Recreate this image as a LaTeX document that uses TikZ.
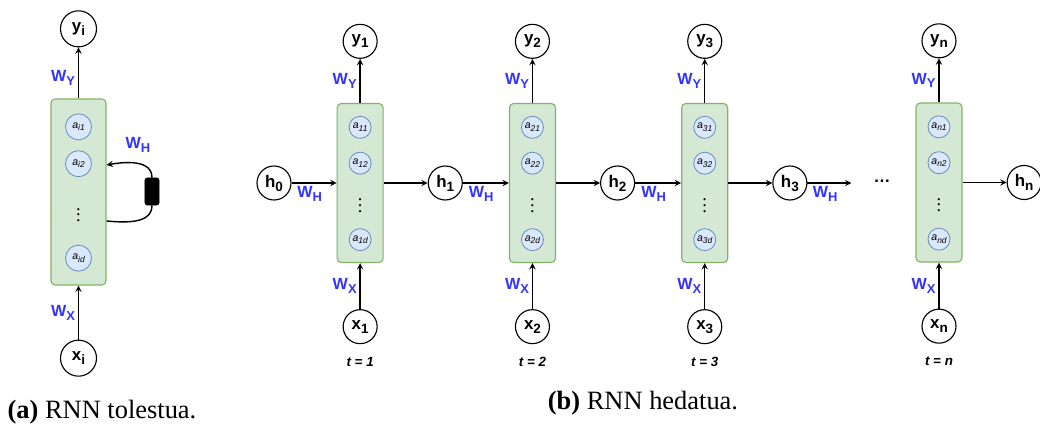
\documentclass[tikz,border=0pt]{standalone}
\usepackage{fontspec}
\setmainfont{Liberation Serif}
\setsansfont{Liberation Sans}
\usepackage{graphicx}
\usepackage{tikz}
\usetikzlibrary{arrows, positioning, calc, shapes}
\definecolor{cellfill}{HTML}{D5E8D4}
\definecolor{celldraw}{HTML}{82B366}
\definecolor{neufill}{HTML}{DAE8FC}
\definecolor{neudraw}{HTML}{6C8EBF}
\definecolor{wblue}{HTML}{3333FF}
\newcommand{\lowidx}[1]{\raisebox{-0.45ex}{\scalebox{0.8}{#1}}}
\tikzstyle{arrow} = [line width=1pt,->,>=stealth]
\tikzstyle{cell} = [rectangle, rounded corners=3pt, draw=celldraw, fill=cellfill, line width=0.8pt, minimum width=1.15cm, minimum height=3.975cm]
\tikzstyle{neuron} = [circle, draw=neudraw, fill=neufill, line width=0.6pt, minimum size=0.55cm, inner sep=0pt, font=\sffamily\itshape\fontsize{7.5}{8}\selectfont]
\tikzstyle{state} = [circle, draw, thick, minimum size=0.85cm, inner sep=0pt, font=\sffamily\bfseries\fontsize{12}{14}\selectfont]
\tikzstyle{wlabel} = [text=wblue, font=\sffamily\bfseries\fontsize{11.5}{13}\selectfont, inner sep=2pt]
\tikzstyle{tlabel} = [font=\sffamily\bfseries\itshape\fontsize{9.5}{11}\selectfont]
\tikzstyle{vdotsnode} = [font=\fontsize{13}{15}\selectfont\boldmath, inner sep=0pt]
\tikzstyle{delay} = [rectangle, rounded corners=1.5pt, fill=black, draw, minimum width=0.35cm, minimum height=0.675cm]
\tikzstyle{caption} = [font=\fontsize{18.8}{22}\selectfont]

\begin{document}
\begin{tikzpicture}[x=0.025cm, y=-0.025cm]
    \useasboundingbox (0,0) rectangle (1040,432);

    % (a) RNN tolestua
    \node (cellA) [cell, minimum width=1.375cm, minimum height=4.65cm] at (78.5,192) {};
    \node (ai1) [neuron, minimum size=0.65cm, below=0.375cm of cellA.north] {a\lowidx{i1}};
    \node (ai2) [neuron, minimum size=0.65cm, below=0.25cm of ai1] {a\lowidx{i2}};
    \node (aid) [neuron, minimum size=0.65cm, above=0.35cm of cellA.south] {a\lowidx{id}};
    \node (dotsA) [vdotsnode] at ($(ai2)!0.5!(aid)$) {$\vdots$};
    \node (yi) [state, minimum size=0.9cm, above=1.275cm of cellA] {y\lowidx{i}};
    \node (xi) [state, minimum size=0.9cm, below=1.35cm of cellA] {x\lowidx{i}};
    \node (delayA) [delay] at (152,191.5) {};
    \node (whA) [wlabel] at (138,145) {W\lowidx{H}};

    \draw [arrow] (cellA) -- node[wlabel, left, pos=0.4] {W\lowidx{Y}} (yi);
    \draw [arrow] (xi) -- node[wlabel, left] {W\lowidx{X}} (cellA);
    \draw [line width=1pt] ($(cellA.east)+(0,29)$) to[out=-5, in=-90] (delayA.south);
    \draw [arrow] (delayA.north) to[out=90, in=10] ($(cellA.east)+(0,-27)$);

    % (b) RNN hedatua
    \node (h0) [state] at (274,183) {h\lowidx{0}};

    % t = 1
    \node (cell1) [cell, right=1.125cm of h0] {};
    \node (a11) [neuron, below=0.325cm of cell1.north] {a\lowidx{11}};
    \node (a12) [neuron, below=0.325cm of a11] {a\lowidx{12}};
    \node (a1d) [neuron, above=0.3cm of cell1.south] {a\lowidx{1d}};
    \node (dots1) [vdotsnode] at ($(a12)!0.5!(a1d)$) {$\vdots$};
    \node (y1) [state, above=1.1cm of cell1] {y\lowidx{1}};
    \node (x1) [state, below=1.15cm of cell1] {x\lowidx{1}};
    \node (t1) [tlabel, below=0.2cm of x1] {t = 1};
    \node (h1) [state, right=1.1cm of cell1] {h\lowidx{1}};

    % t = 2
    \node (cell2) [cell, right=1.15cm of h1] {};
    \node (a21) [neuron, below=0.325cm of cell2.north] {a\lowidx{21}};
    \node (a22) [neuron, below=0.325cm of a21] {a\lowidx{22}};
    \node (a2d) [neuron, above=0.3cm of cell2.south] {a\lowidx{2d}};
    \node (dots2) [vdotsnode] at ($(a22)!0.5!(a2d)$) {$\vdots$};
    \node (y2) [state, above=1.1cm of cell2] {y\lowidx{2}};
    \node (x2) [state, below=1.15cm of cell2] {x\lowidx{2}};
    \node (t2) [tlabel, below=0.2cm of x2] {t = 2};
    \node (h2) [state, right=1.1cm of cell2] {h\lowidx{2}};

    % t = 3
    \node (cell3) [cell, right=1.15cm of h2] {};
    \node (a31) [neuron, below=0.325cm of cell3.north] {a\lowidx{31}};
    \node (a32) [neuron, below=0.325cm of a31] {a\lowidx{32}};
    \node (a3d) [neuron, above=0.3cm of cell3.south] {a\lowidx{3d}};
    \node (dots3) [vdotsnode] at ($(a32)!0.5!(a3d)$) {$\vdots$};
    \node (y3) [state, above=1.1cm of cell3] {y\lowidx{3}};
    \node (x3) [state, below=1.15cm of cell3] {x\lowidx{3}};
    \node (t3) [tlabel, below=0.2cm of x3] {t = 3};
    \node (h3) [state, right=1.1cm of cell3] {h\lowidx{3}};
    \coordinate (h3end) at ($(h3.east)+(44,0)$);
    \node (hdots) [font=\sffamily\bfseries\fontsize{12}{14}\selectfont] at (882,181) {\dots};

    % t = n
    \node (cellN) [cell] at (939,182.5) {};
    \node (an1) [neuron, below=0.325cm of cellN.north] {a\lowidx{n1}};
    \node (an2) [neuron, below=0.325cm of an1] {a\lowidx{n2}};
    \node (and) [neuron, above=0.3cm of cellN.south] {a\lowidx{nd}};
    \node (dotsN) [vdotsnode] at ($(an2)!0.5!(and)$) {$\vdots$};
    \node (yn) [state, above=1.1cm of cellN] {y\lowidx{n}};
    \node (xn) [state, below=1.15cm of cellN] {x\lowidx{n}};
    \node (tn) [tlabel, below=0.2cm of xn] {t = n};
    \node (hn) [state, right=1.1cm of cellN] {h\lowidx{n}};

    % Flechas
    \draw [arrow] (h0) -- node[wlabel, below, pos=0.4] {W\lowidx{H}} (cell1);
    \draw [arrow] (cell1) -- (h1);
    \draw [arrow] (h1) -- node[wlabel, below, pos=0.4] {W\lowidx{H}} (cell2);
    \draw [arrow] (cell2) -- (h2);
    \draw [arrow] (h2) -- node[wlabel, below, pos=0.4] {W\lowidx{H}} (cell3);
    \draw [arrow] (cell3) -- (h3);
    \draw [arrow] (h3) -- node[wlabel, below, pos=0.4] {W\lowidx{H}} (h3end);
    \draw [arrow] (cellN) -- (hn);

    \draw [arrow] (cell1) -- node[wlabel, left] {W\lowidx{Y}} (y1);
    \draw [arrow] (x1) -- node[wlabel, left] {W\lowidx{X}} (cell1);
    \draw [arrow] (cell2) -- node[wlabel, left] {W\lowidx{Y}} (y2);
    \draw [arrow] (x2) -- node[wlabel, left] {W\lowidx{X}} (cell2);
    \draw [arrow] (cell3) -- node[wlabel, left] {W\lowidx{Y}} (y3);
    \draw [arrow] (x3) -- node[wlabel, left] {W\lowidx{X}} (cell3);
    \draw [arrow] (cellN) -- node[wlabel, left] {W\lowidx{Y}} (yn);
    \draw [arrow] (xn) -- node[wlabel, left] {W\lowidx{X}} (cellN);

    % Leyendas
    \node (capA) [caption] at (102,412) {\textbf{(a)} RNN tolestua.};
    \node (capB) [caption] at (643,403) {\textbf{(b)} RNN hedatua.};
\end{tikzpicture}
\end{document}
